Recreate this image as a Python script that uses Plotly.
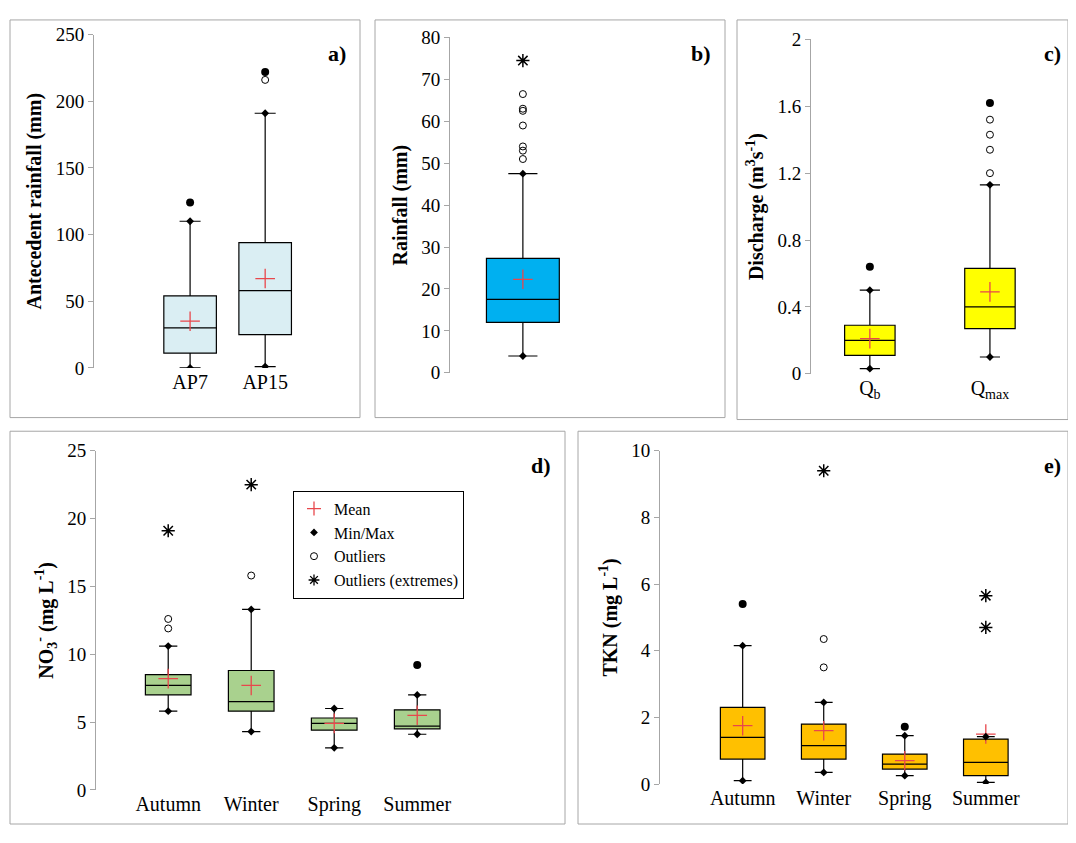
import plotly.graph_objects as go

# panel a) antecedent rainfall
a_cats = ["AP7", "AP15"]
a_min = [0, 1]
a_q1 = [11, 25]
a_med = [30, 58]
a_q3 = [54, 94]
a_upper = [110, 191]
a_mean = [35, 67]
a_out_open = [[], [216]]
a_out_fill = [[124], [222]]
a_out_ext = [[], []]

# panel b) rainfall
b_cats = ["R"]
b_min = [4]
b_q1 = [12]
b_med = [17.5]
b_q3 = [27.3]
b_upper = [47.5]
b_mean = [22.3]
b_out_open = [[51, 53, 54, 59, 62.5, 63, 66.5]]
b_out_fill = [[]]
b_out_ext = [[74.5]]

# panel c) discharge
c_cats = ["Q<sub>b</sub>", "Q<sub>max</sub>"]
c_min = [0.03, 0.1]
c_q1 = [0.11, 0.27]
c_med = [0.2, 0.4]
c_q3 = [0.29, 0.63]
c_upper = [0.5, 1.13]
c_mean = [0.21, 0.49]
c_out_open = [[], [1.2, 1.34, 1.43, 1.52]]
c_out_fill = [[0.64], [1.62]]
c_out_ext = [[], []]

seasons = ["Autumn", "Winter", "Spring", "Summer"]
# panel d) NO3
d_min = [5.8, 4.3, 3.1, 4.1]
d_q1 = [7.0, 5.8, 4.4, 4.5]
d_med = [7.7, 6.5, 4.9, 4.7]
d_q3 = [8.5, 8.8, 5.3, 5.9]
d_upper = [10.6, 13.3, 6.0, 7.0]
d_mean = [8.2, 7.7, 4.9, 5.5]
d_out_open = [[11.9, 12.6], [15.8], [], []]
d_out_fill = [[], [], [], [9.2]]
d_out_ext = [[19.1], [22.5], [], []]

# panel e) TKN
e_min = [0.1, 0.35, 0.25, 0.05]
e_q1 = [0.75, 0.75, 0.45, 0.25]
e_med = [1.4, 1.15, 0.6, 0.65]
e_q3 = [2.3, 1.8, 0.9, 1.35]
e_upper = [4.15, 2.45, 1.45, 1.42]
e_mean = [1.75, 1.6, 0.7, 1.5]
e_out_open = [[], [3.5, 4.35], [], []]
e_out_fill = [[5.4], [], [1.72], []]
e_out_ext = [[], [9.4], [], [4.7, 5.65]]

FONT = "Liberation Serif"
OFF = 8          # page body margin
W, H = 1060, 827


def px_x(p):
    return min(max((p - OFF) / W, 0), 1)


def px_y(p):
    return min(max(1 - (p - OFF) / H, 0), 1)


fig = go.Figure()

panels = [
    ("a", a_cats, (a_min, a_q1, a_med, a_q3, a_upper, a_mean, a_out_open, a_out_fill, a_out_ext),
     "#DAEEF3", (94, 350), (25, 367), [0, 250], 50, "Antecedent rainfall (mm)", (10, 10, 360, 418),
     [-1.28, 2.13], 0.7),
    ("b", b_cats, (b_min, b_q1, b_med, b_q3, b_upper, b_mean, b_out_open, b_out_fill, b_out_ext),
     "#00B0F0", (450, 715), (28, 372), [0, 80], 10, "Rainfall (mm)", (375, 10, 725, 418),
     [-0.275, 0.725], 0.275),
    ("c", c_cats, (c_min, c_q1, c_med, c_q3, c_upper, c_mean, c_out_open, c_out_fill, c_out_ext),
     "#FFFF00", (811, 1062), (30, 373), [0, 2], 0.4, "Discharge (m<sup>3</sup>s<sup>-1</sup>)", (737, 10, 1075, 420),
     [-0.49, 1.6], 0.42),
    ("d", seasons, (d_min, d_q1, d_med, d_q3, d_upper, d_mean, d_out_open, d_out_fill, d_out_ext),
     "#A9D18E", (96, 555), (452, 800), [0, 25], 5, "NO<sub>3</sub><sup>-</sup> (mg L<sup>-1</sup>)", (10, 432, 565, 842),
     [-0.87, 4.66], 0.55),
    ("e", seasons, (e_min, e_q1, e_med, e_q3, e_upper, e_mean, e_out_open, e_out_fill, e_out_ext),
     "#FFC000", (660, 1062), (452, 794), [0, 10], 2, "TKN (mg L<sup>-1</sup>)", (578, 432, 1075, 842),
     [-1.02, 3.94], 0.55),
]

shapes = []
annotations = []
for i, (name, cats, st, col, xpx, ypx, yr, dt, ytitle, frame, xr, bw) in enumerate(panels):
    n = i + 1
    xa = "x" if n == 1 else f"x{n}"
    ya = "y" if n == 1 else f"y{n}"
    mn, q1, med, q3, up, mean, oo, of, oe = st
    fig.add_trace(go.Box(
        x=cats, q1=q1, median=med, q3=q3, lowerfence=mn, upperfence=up,
        fillcolor=col, line=dict(color="black", width=1.2), boxpoints=False,
        width=bw, whiskerwidth=0.4,
        showlegend=False, xaxis=xa, yaxis=ya))
    fig.add_trace(go.Scatter(x=cats, y=mean, mode="markers", showlegend=False,
                             marker=dict(symbol="cross-thin", size=14, line=dict(color="#E8474C", width=1.3)),
                             xaxis=xa, yaxis=ya))
    fig.add_trace(go.Scatter(x=cats + cats, y=mn + up, mode="markers", showlegend=False,
                             marker=dict(symbol="diamond", size=6, color="black"),
                             xaxis=xa, yaxis=ya))
    ox, oy = [], []
    for c, vals in zip(cats, oo):
        ox += [c] * len(vals); oy += vals
    fig.add_trace(go.Scatter(x=ox, y=oy, mode="markers", showlegend=False,
                             marker=dict(symbol="circle-open", size=7, color="black", line=dict(width=1)),
                             xaxis=xa, yaxis=ya))
    fx, fy = [], []
    for c, vals in zip(cats, of):
        fx += [c] * len(vals); fy += vals
    fig.add_trace(go.Scatter(x=fx, y=fy, mode="markers", showlegend=False,
                             marker=dict(symbol="circle", size=8, color="black"),
                             xaxis=xa, yaxis=ya))
    ex, ey = [], []
    for c, vals in zip(cats, oe):
        ex += [c] * len(vals); ey += vals
    fig.add_trace(go.Scatter(x=ex, y=ey, mode="markers", showlegend=False,
                             marker=dict(symbol="asterisk-open", size=11, color="black", line=dict(width=1.5)),
                             xaxis=xa, yaxis=ya))

    fig.update_layout({
        f"xaxis{'' if n == 1 else n}": dict(
            domain=[px_x(xpx[0]), px_x(xpx[1])], anchor=ya, showline=False, ticks="",
            showticklabels=(name != "b"), tickfont=dict(family=FONT, size=20, color="black"),
            range=xr),
        f"yaxis{'' if n == 1 else n}": dict(
            domain=[px_y(ypx[1]), px_y(ypx[0])], anchor=xa, range=yr, dtick=dt,
            showgrid=False, zeroline=False, showline=True, linecolor="#A6A6A6",
            ticks="outside", tickcolor="#A6A6A6", ticklen=5,
            tickfont=dict(family=FONT, size=19, color="black"),
            title=dict(text="<b>" + ytitle + "</b>", font=dict(family=FONT, size=20, color="black"), standoff=8)),
    })
    shapes.append(dict(type="rect", xref="paper", yref="paper",
                       x0=px_x(frame[0]), x1=px_x(frame[2]), y0=px_y(frame[3]), y1=px_y(frame[1]),
                       line=dict(color="#A6A6A6", width=1)))
    annotations.append(dict(text=f"<b>{name})</b>", xref="paper", yref="paper",
                            x=px_x(frame[2] - 12), y=px_y(frame[1] + 20),
                            xanchor="right", yanchor="top", showarrow=False,
                            font=dict(family=FONT, size=22, color="black")))

# legend entries for panel d
leg = [("Mean", dict(symbol="cross-thin", size=10, line=dict(color="#E8474C", width=1.3))),
       ("Min/Max", dict(symbol="diamond", size=6, color="black")),
       ("Outliers", dict(symbol="circle-open", size=7, color="black")),
       ("Outliers (extremes)", dict(symbol="asterisk-open", size=9, color="black", line=dict(width=1.3)))]
for nm, mk in leg:
    fig.add_trace(go.Scatter(x=[None], y=[None], mode="markers", name=nm, marker=mk,
                             xaxis="x4", yaxis="y4"))

fig.update_layout(
    width=W, height=H, margin=dict(l=0, r=0, t=0, b=0),
    paper_bgcolor="white", plot_bgcolor="white",
    shapes=shapes, annotations=annotations,
    legend=dict(x=px_x(293), y=px_y(493), xanchor="left", yanchor="top",
                bordercolor="black", borderwidth=1, bgcolor="white",
                font=dict(family=FONT, size=16, color="black"), itemwidth=30,
                tracegroupgap=6, entrywidth=160),
)

fig.write_html("out.html")
